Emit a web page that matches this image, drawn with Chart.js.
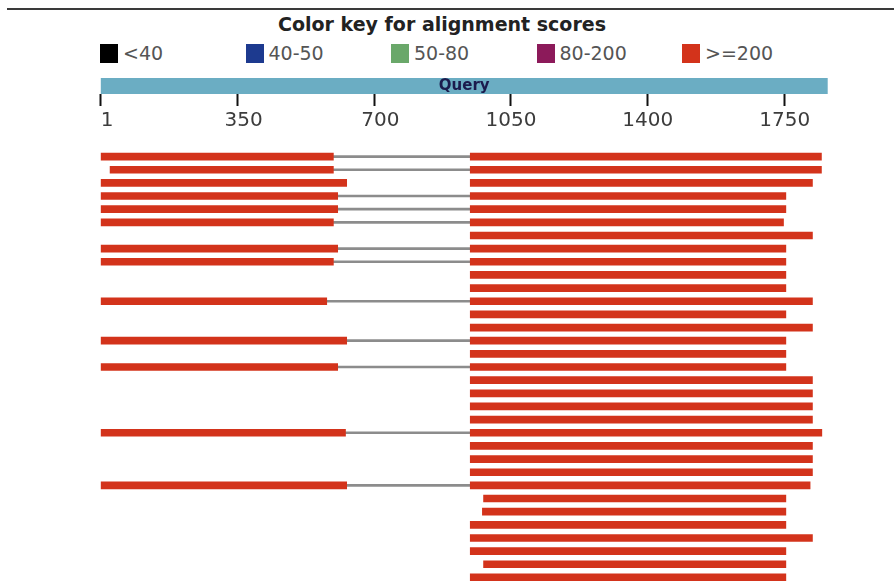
<!DOCTYPE html>
<html>
<head>
<meta charset="utf-8">
<title>Color key for alignment scores</title>
<script src="https://cdn.jsdelivr.net/npm/chart.js@4/dist/chart.umd.min.js"></script>
<style>
  html, body { margin: 0; padding: 0; background: #fff; }
  body { width: 894px; height: 581px; position: relative; overflow: hidden; font-family: "DejaVu Sans", Verdana, sans-serif; }
  .rule { position: absolute; left: 7px; right: 0; top: 8px; height: 2px; background: #3a3a3a; }
  .key-title { position: absolute; left: 0; width: 884px; top: 13px; line-height: 22px; text-align: center; font-size: 19px; font-weight: bold; color: #222; }
  .key { position: absolute; left: 100px; top: 42px; display: flex; }
  .key-item { width: 145.5px; height: 22px; display: flex; align-items: center; font-size: 19px; line-height: 22px; color: #555; }
  .key-swatch { width: 18px; height: 19px; margin-right: 5px; }
  #query-chart { position: absolute; left: 0; top: 70px; }
  #hits-chart { position: absolute; left: 0; top: 150px; }
</style>
</head>
<body>
<div class="rule"></div>
<div class="key-title">Color key for alignment scores</div>
<div class="key" id="score-key"></div>
<canvas id="query-chart" width="894" height="63"></canvas>
<canvas id="hits-chart" width="894" height="434"></canvas>
<script>
// Score bins and their colours.
const scoreBins = [ '<40', '40-50', '50-80', '80-200', '>=200' ];
const binColors = [ '#000000', '#1d3a8f', '#6aa86a', '#8c1a5a', '#d3331b' ];

// Query coverage axis.
const queryLength = 1860;
const axisTicks = [ 1, 350, 700, 1050, 1400, 1750 ];

// Hits, top to bottom: first HSP (null when absent), second HSP, and whether the two are joined.
const leftStart = [ 1, 25, 1, 1, 1, 1, null, 1, 1, null, null, 1, null, null, 1, null, 1, null, null, null, null, 1, null, null, null, 1, null, null, null, null, null, null, null ];
const leftEnd = [ 596, 596, 630, 607, 607, 596, null, 607, 596, null, null, 579, null, null, 630, null, 607, null, null, null, null, 627, null, null, null, 630, null, null, null, null, null, null, null ];
const rightStart = [ 946, 946, 946, 946, 946, 946, 946, 946, 946, 946, 946, 946, 946, 946, 946, 946, 946, 946, 946, 946, 946, 946, 946, 946, 946, 946, 980, 977, 946, 946, 946, 980, 946 ];
const rightEnd = [ 1844, 1844, 1821, 1753, 1753, 1747, 1821, 1753, 1753, 1753, 1753, 1821, 1753, 1821, 1753, 1753, 1753, 1821, 1821, 1821, 1821, 1845, 1821, 1821, 1821, 1815, 1753, 1753, 1753, 1821, 1753, 1753, 1753 ];
const joined = [ 1, 1, 0, 1, 1, 1, 0, 1, 1, 0, 0, 1, 0, 0, 1, 0, 1, 0, 0, 0, 0, 1, 0, 0, 0, 1, 0, 0, 0, 0, 0, 0, 0 ];

( function () {
  'use strict';

  const hitColor = binColors[ 4 ];
  const plotPadding = { left: 100.7, right: 66.3 };

  /**
   * Build the colour key row.
   */
  function buildKey() {
    const key = document.getElementById( 'score-key' );
    scoreBins.forEach( function ( bin, i ) {
      const item = document.createElement( 'div' );
      item.className = 'key-item';
      const swatch = document.createElement( 'span' );
      swatch.className = 'key-swatch';
      swatch.style.background = binColors[ i ];
      item.appendChild( swatch );
      item.appendChild( document.createTextNode( bin ) );
      key.appendChild( item );
    } );
  }

  // Writes "Query" in the middle of the query bar.
  const queryLabel = {
    id: 'queryLabel',
    afterDatasetsDraw: function ( chart ) {
      const bar = chart.getDatasetMeta( 0 ).data[ 0 ];
      if ( ! bar ) {
        return;
      }
      const ctx = chart.ctx;
      ctx.save();
      ctx.font = 'bold 15px "DejaVu Sans"';
      ctx.fillStyle = '#1b1b4d';
      ctx.textAlign = 'center';
      ctx.textBaseline = 'middle';
      ctx.fillText( 'Query', ( bar.x + bar.base ) / 2, bar.y );
      ctx.restore();
    }
  };

  /**
   * Query bar with the position ruler under it.
   */
  function initQueryChart() {
    new Chart( document.getElementById( 'query-chart' ), {
      type: 'bar',
      data: {
        labels: [ 'Query' ],
        datasets: [ {
          data: [ [ 1, queryLength ] ],
          backgroundColor: '#6badc3',
          borderWidth: 0,
          categoryPercentage: 1,
          barPercentage: 1
        } ]
      },
      options: {
        indexAxis: 'y',
        responsive: false,
        animation: false,
        layout: { padding: { left: plotPadding.left, right: plotPadding.right, top: 8, bottom: 0 } },
        plugins: { legend: { display: false }, tooltip: { enabled: false } },
        scales: {
          y: { display: false },
          x: {
            type: 'linear',
            position: 'bottom',
            min: 1,
            max: queryLength,
            afterBuildTicks: function ( scale ) {
              scale.ticks = axisTicks.map( ( v ) => ( { value: v } ) );
            },
            afterFit: function ( scale ) {
              scale.height = 39;
            },
            border: { display: false },
            grid: {
              drawOnChartArea: false,
              drawTicks: true,
              tickLength: 12,
              tickWidth: 2,
              tickColor: '#111'
            },
            ticks: {
              autoSkip: false,
              maxRotation: 0,
              padding: 3,
              color: '#3c3c3c',
              font: { family: '"DejaVu Sans"', size: 20 },
              callback: function ( value ) {
                // short numbers sit a little right of their tick
                return value < 1000 ? '  ' + value : String( value );
              }
            }
          }
        }
      },
      plugins: [ queryLabel ]
    } );
  }

  /**
   * One row per hit: HSP bars joined by a thin grey line.
   */
  function initHitsChart() {
    const rows = rightStart.map( ( _, i ) => 'hit ' + ( i + 1 ) );
    const firstHsp = leftStart.map( ( s, i ) => ( s === null ? null : [ s, leftEnd[ i ] ] ) );
    const secondHsp = rightStart.map( ( s, i ) => [ s, rightEnd[ i ] ] );
    const links = joined.map( ( j, i ) => ( j ? [ leftEnd[ i ], rightStart[ i ] ] : null ) );

    new Chart( document.getElementById( 'hits-chart' ), {
      type: 'bar',
      data: {
        labels: rows,
        datasets: [
          {
            data: links,
            backgroundColor: '#8c8c8c',
            barThickness: 2,
            grouped: false,
            order: 2
          },
          {
            data: firstHsp,
            backgroundColor: hitColor,
            barThickness: 7,
            grouped: false,
            order: 1
          },
          {
            data: secondHsp,
            backgroundColor: hitColor,
            barThickness: 7,
            grouped: false,
            order: 1
          }
        ]
      },
      options: {
        indexAxis: 'y',
        responsive: false,
        animation: false,
        layout: { padding: { left: plotPadding.left, right: plotPadding.right, top: 0, bottom: 0 } },
        plugins: { legend: { display: false }, tooltip: { enabled: false } },
        scales: {
          y: { display: false },
          x: { type: 'linear', display: false, min: 1, max: queryLength }
        }
      }
    } );
  }

  buildKey();
  initQueryChart();
  initHitsChart();
} )();
</script>
</body>
</html>
